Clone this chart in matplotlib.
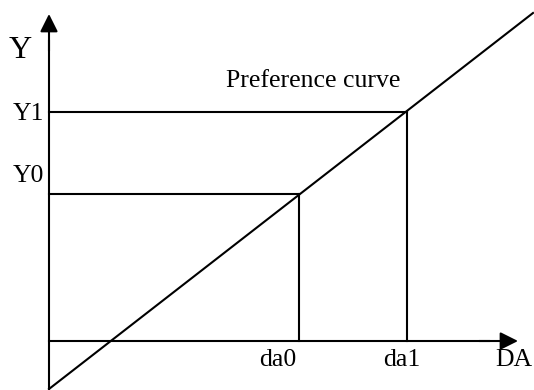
import matplotlib
matplotlib.use('Agg')
import matplotlib.pyplot as plt

plt.rcParams['font.family'] = ['Liberation Serif', 'DejaVu Serif']

# values (pixel-ish units, origin at the axes crossing)
da_names = ['da0', 'da1']
da_vals = [250, 358]
y_names = ['Y0', 'Y1']
y_vals = [147, 229]
curve_x = [0, 484]
curve_y = [-48, 328]

fig = plt.figure(figsize=(5.34, 3.90), dpi=100)
ax = fig.add_axes([0, 0, 1, 1])
ax.set_xlim(-49, 485)
ax.set_ylim(-49, 341)
ax.axis('off')

lw = 1.5
arrow = dict(arrowstyle='-|>', mutation_scale=27, lw=lw, color='k',
             shrinkA=0, shrinkB=0)
# axes with arrows
ax.plot([0, 0], [-48, 300], color='k', lw=lw)
ax.annotate('', xy=(0, 327), xytext=(0, 290), arrowprops=arrow)
ax.plot([0, 440], [0, 0], color='k', lw=lw)
ax.annotate('', xy=(469, 0), xytext=(430, 0), arrowprops=arrow)

# preference curve
ax.plot(curve_x, curve_y, color='k', lw=lw)

# projection lines
for d, y in zip(da_vals, y_vals):
    ax.plot([0, d], [y, y], color='k', lw=lw)
    ax.plot([d, d], [0, y], color='k', lw=lw)

fs = 18.5
for name, y in zip(y_names, y_vals):
    ax.text(-21, y + (18 if name == 'Y0' else -2), name, fontsize=fs,
            ha='center', va='center')
for name, d in zip(da_names, da_vals):
    ax.text(d - 21 + (0 if name == 'da0' else 16), -19, name, fontsize=fs,
            ha='center', va='center')
ax.text(465, -19, 'DA', fontsize=fs, ha='center', va='center')
ax.text(-29, 291, 'Y', fontsize=23, ha='center', va='center')
ax.text(264, 260, 'Preference curve', fontsize=fs, ha='center', va='center')

fig.savefig('out.png', dpi=100)
